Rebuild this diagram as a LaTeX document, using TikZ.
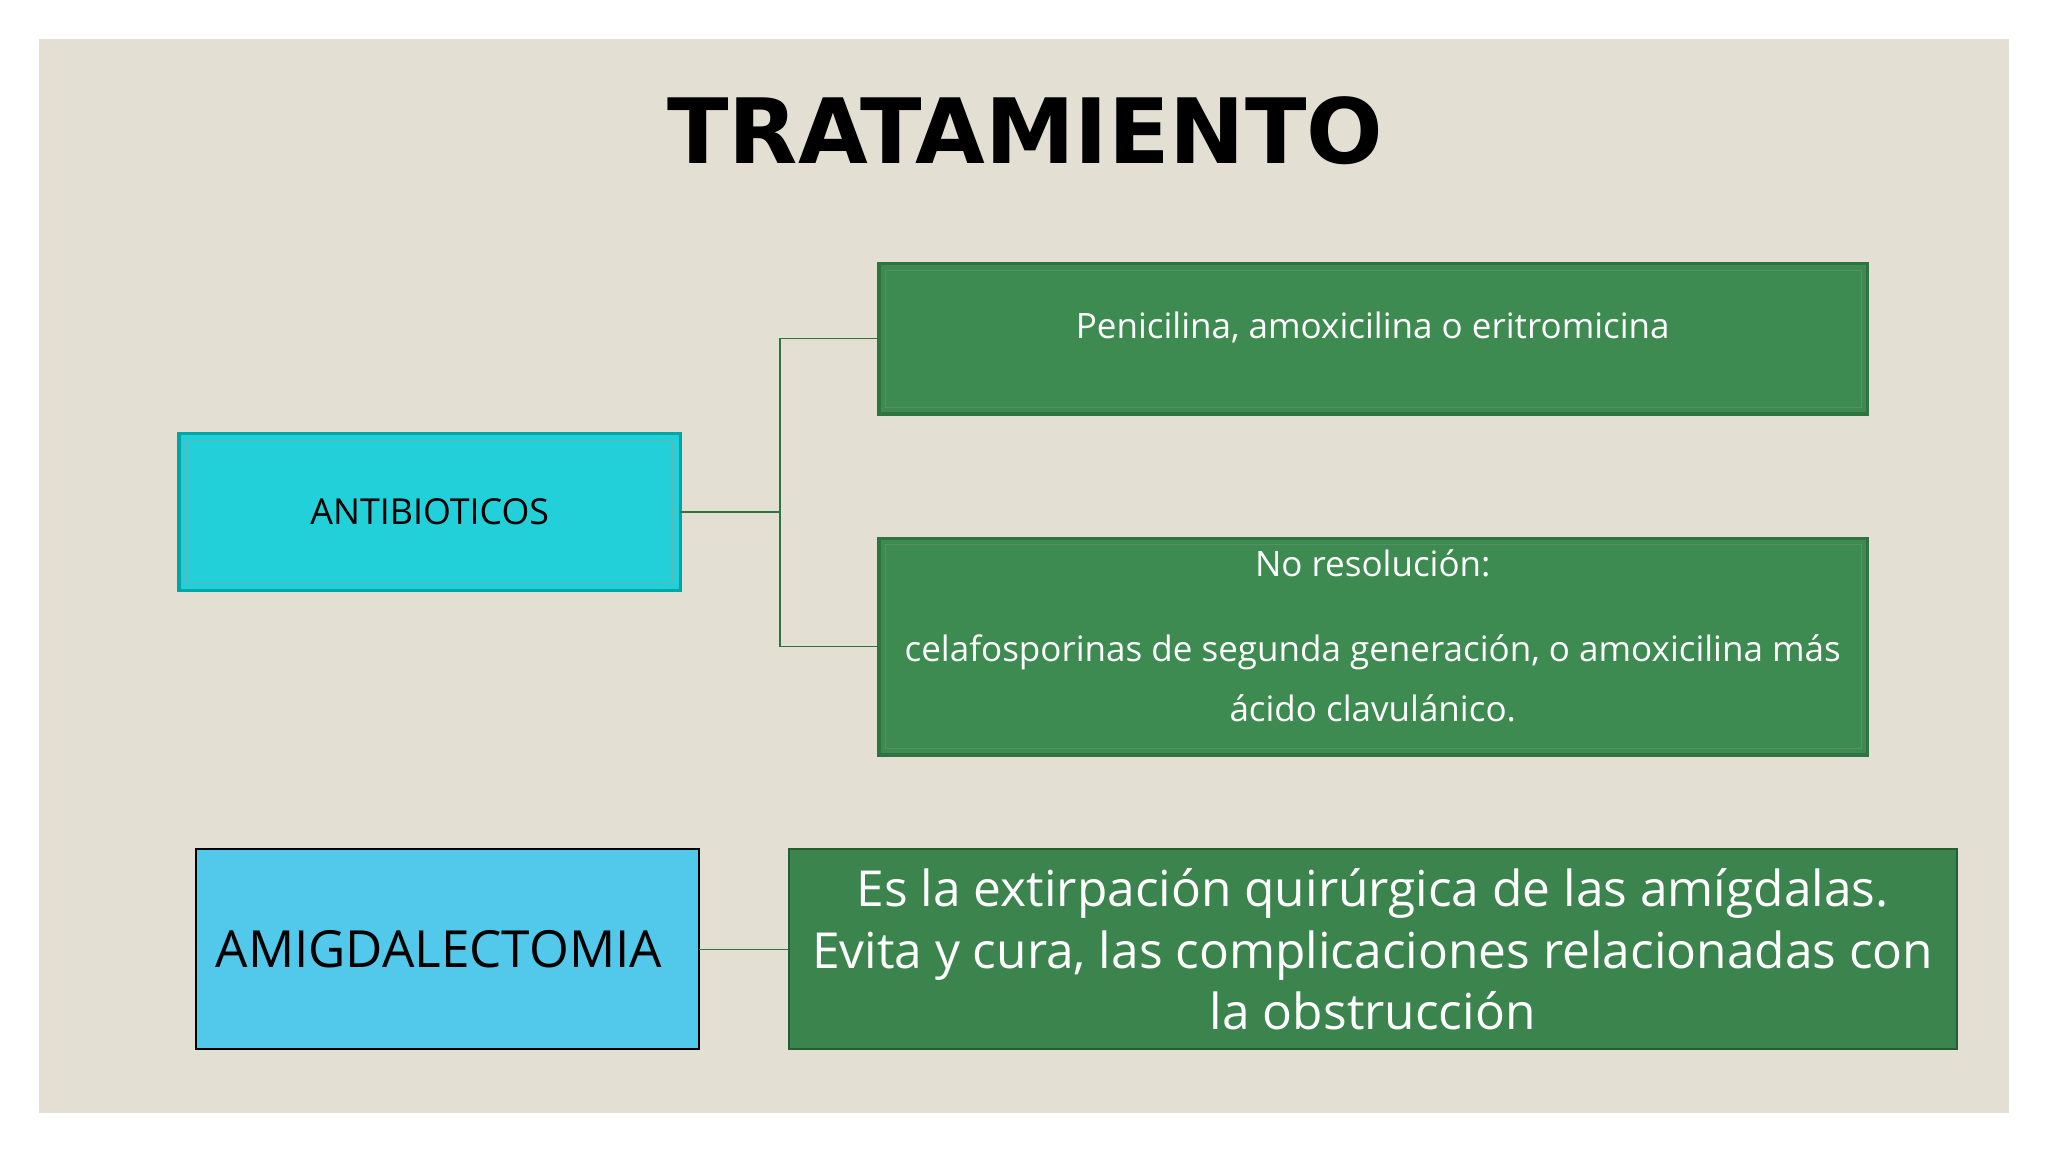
\documentclass[tikz,border=0pt]{standalone}
\usepackage{fontspec}
\setmainfont{Open Sans}
\newfontfamily\titlefont{DejaVu Sans}
\definecolor{bg}{HTML}{E3DFD3}
\definecolor{gfill}{HTML}{3E8B52}
\definecolor{gline}{HTML}{2F7440}
\definecolor{cyanbox}{HTML}{22D0DA}
\definecolor{bluebox}{HTML}{52C8EA}
\tikzset{
  px/.style={x=0.5pt,y=-0.5pt},
  gbox/.style={fill=gfill,draw=gline,line width=1.2pt},
  conn/.style={draw=gline,line width=0.6pt},
  wtxt/.style={text=white,font=\fontsize{13.4}{23}\selectfont,align=center},
}
\begin{document}
\begin{tikzpicture}[px]
\useasboundingbox (0,0) rectangle (1568,882);
\fill[white] (0,0) rectangle (1568,882);
\fill[bg] (30,30) rectangle (1538,852);
\node[font=\titlefont\bfseries\fontsize{34.5}{40}\selectfont,text=black] (title) at (785,100) {TRATAMIENTO};
% boxes
\draw[gbox] (673,202) rectangle (1430,317);
\draw[gline!80,line width=0.4pt] (678,207) rectangle (1425,312);
\coordinate (pen) at (673,259);
\node[wtxt] (pent) at (1051,251) {Penicilina, amoxicilina o eritromicina};
\draw[gbox] (673,412) rectangle (1430,578);
\draw[gline!80,line width=0.4pt] (678,417) rectangle (1425,573);
\coordinate (nor) at (673,495);
\node[wtxt] (nort) at (1051,431) {No resolución:};
\node[wtxt] (nort2) at (1051,519) {celafosporinas de segunda generación, o amoxicilina más\\ácido clavulánico.};
\draw[fill=cyanbox,draw=teal!70!cyan,line width=1.2pt] (137,332) rectangle (521,452);
\draw[teal!60,line width=0.4pt] (143,338) rectangle (515,446);
\node[font=\fontsize{13.7}{18}\selectfont] (ant) at (329,392) {ANTIBIOTICOS};
\coordinate (antr) at (521,392);
\coordinate (j) at (597,392);
\draw[conn] (antr) -- (j) (pen) -| (j) |- (nor);
% bottom
\draw[fill=bluebox,draw=black,line width=0.6pt] (150,650) rectangle (535,803);
\node[font=\fontsize{19.6}{24}\selectfont,anchor=west] (amg) at (158,727) {AMIGDALECTOMIA};
\draw[fill=gfill!95!black,draw=gline!80!black,line width=0.8pt] (604,650) rectangle (1498,803);
\node[text=white,align=center,font=\fontsize{19}{23.5}\selectfont] (ext) at (1051,727)
 {Es la extirpación quirúrgica de las amígdalas.\\Evita y cura, las complicaciones relacionadas con\\la obstrucción};
\coordinate (amr) at (535,727);
\coordinate (exl) at (604,727);
\draw[conn] (amr) -- (exl);
\end{tikzpicture}
\end{document}
